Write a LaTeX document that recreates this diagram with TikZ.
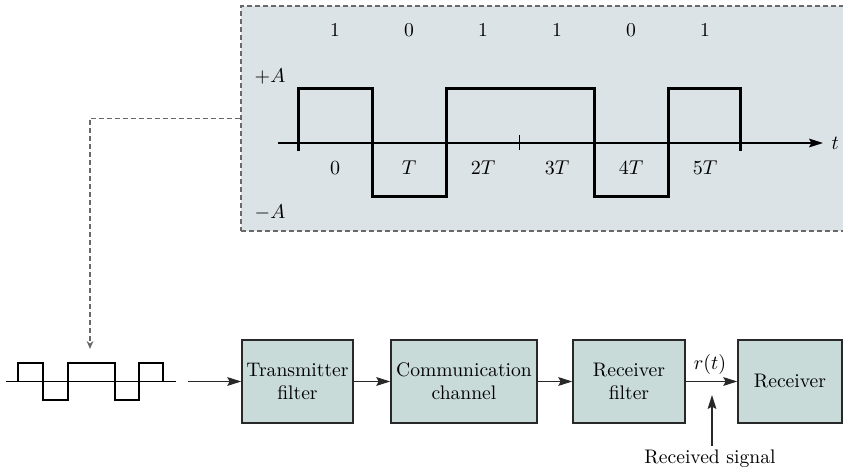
\documentclass[tikz,border=0pt]{standalone}
\usepackage{tikz}
\usetikzlibrary{arrows.meta, positioning, calc}

\begin{document}
\begin{tikzpicture}[x=0.5pt, y=-0.5pt, >={Stealth[length=7pt, width=4.4pt, inset=1.2pt]},
	font=\fontsize{9.8}{11.6}\selectfont,
	panel/.style={draw=dashgray, dashed, dash pattern=on 2.6pt off 1.4pt, line width=0.65pt, fill=panelbg, inner sep=0pt},
	block/.style={draw=boxline, line width=0.75pt, fill=blockbg, inner sep=0pt, minimum height=41.5pt, align=center},
	wave/.style={line width=1.5pt, line cap=butt, line join=miter},
	link/.style={->, line width=0.65pt, draw=boxline},
	label/.style={inner sep=0pt}
	]
	
	% Define colors
	\definecolor{panelbg}{RGB}{220,227,230}
	\definecolor{blockbg}{RGB}{200,219,217}
	\definecolor{boxline}{RGB}{40,40,40}
	\definecolor{dashgray}{RGB}{105,105,105}
	
	\useasboundingbox (0,0) rectangle (843,470);
	
	% 1. Shaded panel with the bipolar signal
	\node[panel, minimum width=304.5pt, minimum height=112.5pt] (panel) at (545.5,118.5) {};
	
	% time axis and tick
	\draw[->, line width=0.6pt] (278,143) -- (823,143) node[label, right=4pt] (t) {$t$};
	\draw[line width=0.5pt] (519,135) -- (519,150);
	
	% signal levels
	\draw[wave] (298,151) -- (298,89) -- (372,89) -- (372,197) -- (446,197) -- (446,89)
		-- (594,89) -- (594,197) -- (668,197) -- (668,89) -- (740,89) -- (740,151);
	
	\node[label] (plusA) at (270,77) {$+A$};
	\node[label] (minusA) at (270,213) {$-A$};
	
	% bits and bit intervals
	\foreach \b [count=\i from 0] in {1,0,1,1,0,1} {
		\node[label] (bit\i) at (335+74*\i,30) {\b};
	}
	\foreach \s [count=\i from 0] in {0,T,2T,3T,4T,5T} {
		\node[label] (time\i) at (335+74*\i,168) {$\s$};
	}
	
	% 2. Small copy of the signal
	\draw[line width=0.6pt] (6,381.5) -- (176,381.5);
	\draw[line width=1pt] (18,381.5) -- (18,363) -- (43,363) -- (43,400) -- (68,400) -- (68,363)
		-- (115,363) -- (115,400) -- (139,400) -- (139,363) -- (163,363) -- (163,381.5);
	\coordinate (sigtop) at (90,349);
	\coordinate (sigout) at (188,381.5);
	
	\draw[-{Stealth[length=4pt, width=3.4pt]}, dashgray, dashed, dash pattern=on 2.6pt off 1.4pt, line width=0.65pt]
		(panel.west) -- (90,118.5) -- (sigtop);
	
	% 3. Transmission chain
	\node[block, minimum width=55.5pt] (txf) at (297.5,381.5) {Transmitter\\filter};
	\node[block, minimum width=73pt] (chan) at (464,381.5) {Communication\\channel};
	\node[block, minimum width=56pt] (rxf) at (629,381.5) {Receiver\\filter};
	\node[block, minimum width=52pt] (rx) at (790,381.5) {Receiver};
	
	\draw[link] (sigout) -- (txf.west);
	\draw[link] (txf) -- (chan);
	\draw[link] (chan) -- (rxf);
	\draw[link] (rxf) -- (rx);
	
	\node[label] (rt) at (710,365) {$r(t)$};
	
	% received signal marker
	\node[label] (recv) at (710,459) {Received signal};
	\coordinate (recvtip) at (712,395);
	\draw[link] (recv.north -| recvtip) ++(0,-4) -- (recvtip);
	
\end{tikzpicture}
\end{document}
